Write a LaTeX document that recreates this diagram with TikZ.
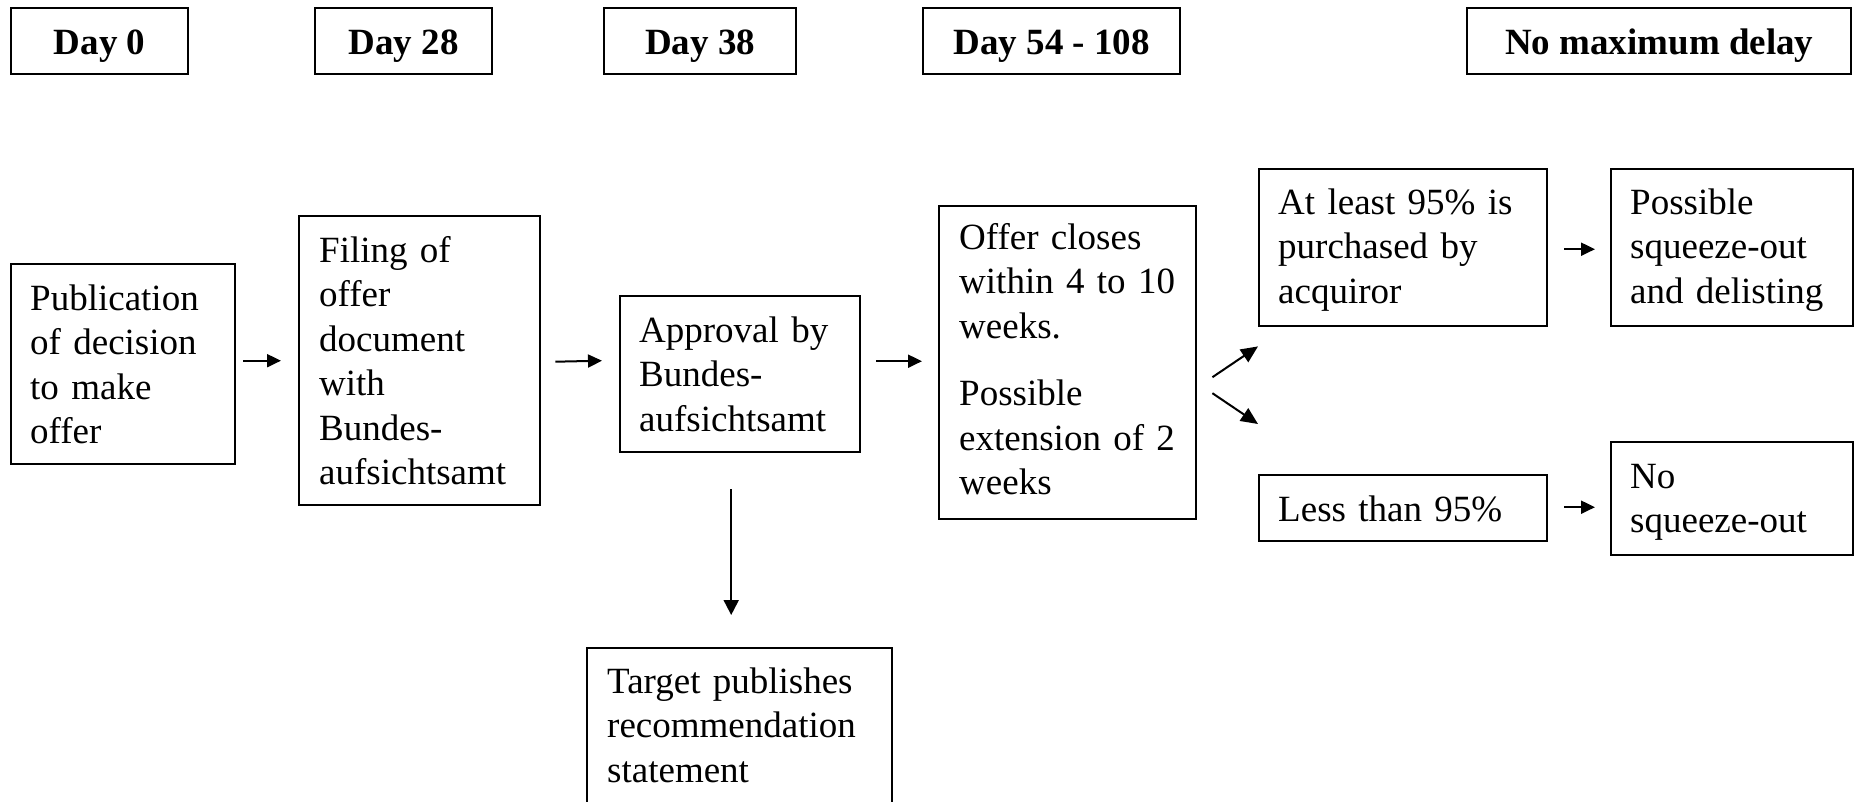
\documentclass[tikz,border=0pt]{standalone}
\usepackage{fontspec}
\setmainfont{Liberation Serif}
\usetikzlibrary{arrows.meta,calc}
\tikzset{
  box/.style={draw=black, line width=2.4pt, inner sep=0pt, anchor=north west},
  hdr/.style={box, font=\fontsize{37}{44.5}\selectfont\bfseries, text height=26pt, text depth=0pt, minimum height=66pt},
  txt/.style={inner sep=0pt, anchor=base west, text width=320pt, align=left, font=\fontsize{37}{44.5}\selectfont},
  arr/.style={line width=2pt, -{Triangle[length=14pt,width=13pt]}},
  darr/.style={line width=2pt, -{Triangle[length=17pt,width=15pt]}},
  varr/.style={line width=2pt, -{Triangle[length=15pt,width=15pt]}}
}
\begin{document}
\begin{tikzpicture}[x=1pt,y=-1pt]
\clip (0,0) rectangle (1854,801);
\fill[white] (0,0) rectangle (1854,801);
% headers
\node[hdr, minimum width=177pt] (d0) at (10,7) {Day 0};
\node[hdr, minimum width=177pt] (d28) at (314,7) {Day 28};
\node[hdr, minimum width=192pt] (d38) at (603,7) {Day 38};
\node[hdr, minimum width=257pt] (d54) at (922,7) {Day 54 - 108};
\node[hdr, minimum width=384pt] (dnm) at (1466,7) {No maximum delay};
% boxes
\node[box, minimum width=224pt, minimum height=200pt] (pub) at (10,263) {};
\node[box, minimum width=241pt, minimum height=289pt] (fil) at (298,215) {};
\node[box, minimum width=240pt, minimum height=156pt] (app) at (619,295) {};
\node[box, minimum width=257pt, minimum height=313pt] (off) at (938,205) {};
\node[box, minimum width=288pt, minimum height=157pt] (atl) at (1258,168) {};
\node[box, minimum width=242pt, minimum height=157pt] (pos) at (1610,168) {};
\node[box, minimum width=288pt, minimum height=66pt] (les) at (1258,474) {};
\node[box, minimum width=242pt, minimum height=113pt] (nos) at (1610,441) {};
\node[box, minimum width=305pt, minimum height=200pt] (tgt) at (586,647) {};
% texts
\node[txt] (pubt) at (30,310) {Publication\\of decision\\to make\\offer};
\node[txt] (filt) at (319,262) {Filing of\\offer\\document\\with\\Bundes-\\aufsichtsamt};
\node[txt] (appt) at (639,342) {Approval by\\Bundes-\\aufsichtsamt};
\node[txt] (offt) at (959,249) {Offer closes\\within 4 to 10\\weeks.\\[23pt]Possible\\extension of 2\\weeks};
\node[txt] (atlt) at (1278,214) {At least 95\% is\\purchased by\\acquiror};
\node[txt] (post) at (1630,214) {Possible\\squeeze-out\\and delisting};
\node[txt] (lest) at (1278,521) {Less than 95\%};
\node[txt] (nost) at (1630,488) {No\\squeeze-out};
\node[txt] (tgtt) at (607,693) {Target publishes\\recommendation\\statement};
% connectors
\draw[arr] ($(pub.east |- fil.west)+(7,0)$) -- ($(fil.west)+(-17,0)$);
\draw[arr] ($(fil.east)+(14,1)$) -- ($(app.west |- fil.east)+(-17,0)$);
\draw[arr] ($(app.east |- off.west)+(15,-1.5)$) -- ($(off.west)+(-16,-1.5)$);
\draw[varr] ($(app.south)+(-9,36)$) -- ($(tgt.north)+(-8.5,-32)$);
\draw[darr] ($(off.east)+(15,14.5)$) -- ($(atl.south west)+(0,19)$);
\draw[darr] ($(off.east)+(15,30.5)$) -- ($(les.north west)+(0,-50)$);
\draw[arr] ($(atl.east)+(16,1.5)$) -- ($(pos.west |- atl.east)+(-15,1.5)$);
\draw[arr] ($(les.east)+(16,-1)$) -- ($(nos.west |- les.east)+(-15,-1)$);
\end{tikzpicture}
\end{document}
